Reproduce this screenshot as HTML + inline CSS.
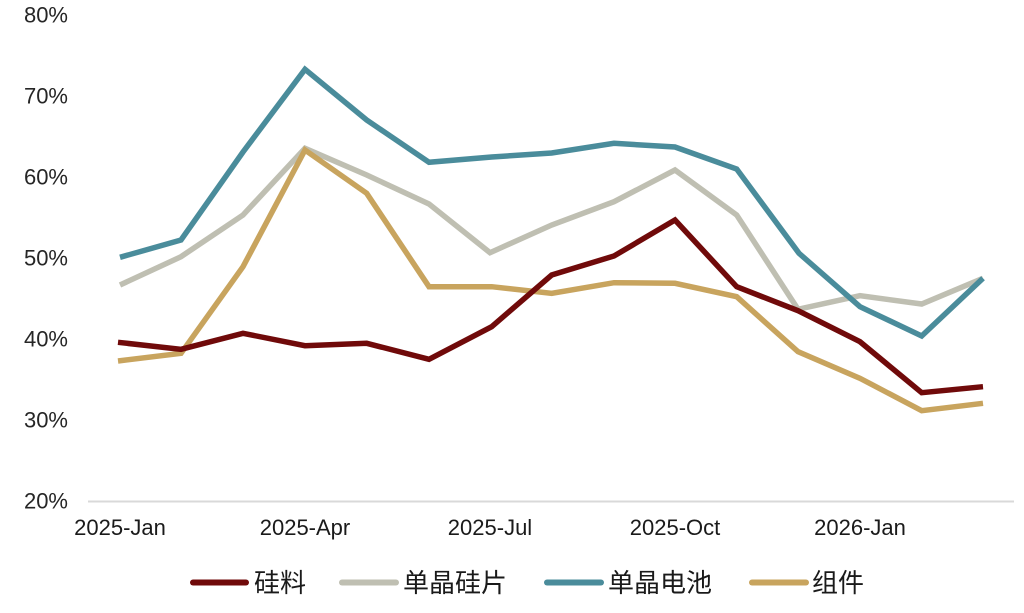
<!DOCTYPE html>
<html>
<head>
<meta charset="utf-8">
<style>
  html,body{margin:0;padding:0;background:#fff;}
  svg{display:block;}
  .yl{font-family:"Liberation Sans",Arial,sans-serif;font-size:22px;fill:#262626;}
  .xl{font-family:"Liberation Sans",Arial,sans-serif;font-size:22px;fill:#1a1a1a;}
  .lg{font-family:"Liberation Sans","Noto Sans CJK SC",sans-serif;font-size:26px;fill:#1a1a1a;}
</style>
</head>
<body>
<svg width="1024" height="613" viewBox="0 0 1024 613" xmlns="http://www.w3.org/2000/svg">
  <rect width="1024" height="613" fill="#fff"/>
  <g class="yl" text-anchor="end" dominant-baseline="central">
    <text x="68" y="15">80%</text>
    <text x="68" y="96">70%</text>
    <text x="68" y="177">60%</text>
    <text x="68" y="258">50%</text>
    <text x="68" y="339">40%</text>
    <text x="68" y="420">30%</text>
    <text x="68" y="501">20%</text>
  </g>
  <line x1="88" y1="501.5" x2="1014" y2="501.5" stroke="#d9d9d9" stroke-width="2"/>
  <g class="xl" text-anchor="middle">
    <text x="120" y="535">2025-Jan</text>
    <text x="305" y="535">2025-Apr</text>
    <text x="490" y="535">2025-Jul</text>
    <text x="675" y="535">2025-Oct</text>
    <text x="860" y="535">2026-Jan</text>
  </g>
  <g fill="none" stroke-width="5.5" stroke-linejoin="miter" stroke-linecap="butt">
    <polyline stroke="#bfbfb2" points="120,285 181,256.7 243,215 305,148.3 366.7,175 429,204 490,252.7 551.7,225 614,201.7 675,170 736.7,215 798,309.3 860,295.7 921.7,304 983,278.3"/>
    <polyline stroke="#4a8c9b" points="120,257.3 181,240 243,152 305,69.3 366.7,120 429,162.3 491.7,157 551.7,153 614,143.3 675,147 736.7,169 799,253.3 860,306.7 921.7,336 983,278.3"/>
    <polyline stroke="#c8a45e" points="118,361 181,353.3 243,266.7 305,150 366.7,193.3 429,286.7 491.7,286.7 551.7,293.3 614,282.7 675,283.3 736.7,296.7 798,351.7 860,378.3 921.7,410.7 983,403.3"/>
    <polyline stroke="#700a0a" points="118,342.3 181,349.3 243,333.3 305,345.7 366.7,343.3 429,359.3 491.7,326.7 551.7,275 614,256 675,220 736.7,286.7 798,310.7 860,341.7 921.7,392.7 983,386.7"/>
  </g>
  <g stroke-width="6" stroke-linecap="round">
    <line x1="193" y1="582.5" x2="246" y2="582.5" stroke="#700a0a"/>
    <line x1="342" y1="582.5" x2="396" y2="582.5" stroke="#bfbfb2"/>
    <line x1="547" y1="582.5" x2="601" y2="582.5" stroke="#4a8c9b"/>
    <line x1="752" y1="582.5" x2="806" y2="582.5" stroke="#c8a45e"/>
  </g>
  <g class="lg" dominant-baseline="central">
    <text x="254" y="583">硅料</text>
    <text x="403" y="583">单晶硅片</text>
    <text x="608" y="583">单晶电池</text>
    <text x="812" y="583">组件</text>
  </g>
</svg>
</body>
</html>
